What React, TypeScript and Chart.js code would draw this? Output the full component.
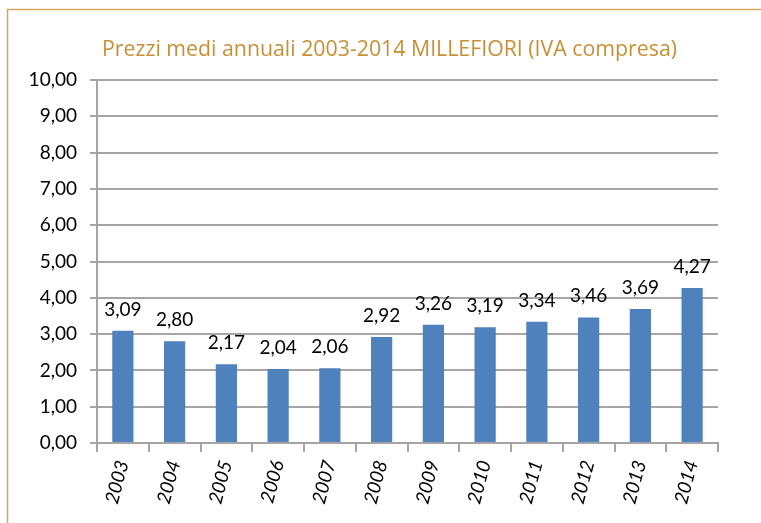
import React, { useEffect, useRef } from "react";
import { Chart, registerables } from "chart.js";

Chart.register(...registerables);

const titleText = "Prezzi medi annuali 2003-2014 MILLEFIORI (IVA compresa)";
const categories = ["2003", "2004", "2005", "2006", "2007", "2008", "2009", "2010", "2011", "2012", "2013", "2014"];
const prices = [3.09, 2.8, 2.17, 2.04, 2.06, 2.92, 3.26, 3.19, 3.34, 3.46, 3.69, 4.27];
const yMin = 0;
const yMax = 10;
const yStep = 1;

const fmt = (v: number) => v.toFixed(2).replace(".", ",");

const W = 761;
const H = 523;

const framePlugin = {
  id: "frame",
  beforeDraw(chart: any) {
    const ctx = chart.ctx;
    ctx.save();
    ctx.fillStyle = "#ffffff";
    ctx.fillRect(0, 0, chart.width, chart.height);
    ctx.strokeStyle = "#D9A45F";
    ctx.lineWidth = 1.5;
    ctx.beginPath();
    ctx.moveTo(7.5, chart.height);
    ctx.lineTo(7.5, 9.5);
    ctx.lineTo(chart.width, 9.5);
    ctx.stroke();
    ctx.fillStyle = "#C98F35";
    ctx.font = "22px 'Open Sans'";
    ctx.textAlign = "left";
    ctx.textBaseline = "alphabetic";
    const w = ctx.measureText(titleText).width;
    const target = 575;
    const sx = target / w;
    ctx.translate(102, 56);
    ctx.scale(sx, 1);
    ctx.fillText(titleText, 0, 0);
    ctx.restore();
  },
};

const labelPlugin = {
  id: "barLabels",
  afterDatasetsDraw(chart: any) {
    const ctx = chart.ctx;
    const meta = chart.getDatasetMeta(0);
    ctx.save();
    ctx.fillStyle = "#000000";
    ctx.font = "19px Lato";
    ctx.textAlign = "center";
    ctx.textBaseline = "alphabetic";
    meta.data.forEach((el: any, i: number) => {
      ctx.fillText(fmt(prices[i]), el.x, el.y - 15);
    });
    ctx.restore();
  },
};

export default function App() {
  const ref = useRef<HTMLCanvasElement | null>(null);
  useEffect(() => {
    if (!ref.current) return;
    const chart = new Chart(ref.current, {
      type: "bar",
      data: {
        labels: categories,
        datasets: [
          {
            data: prices,
            backgroundColor: "#4F81BD",
            borderWidth: 0,
            categoryPercentage: 1,
            barPercentage: 0.41,
          },
        ],
      },
      options: {
        responsive: false,
        animation: false,
        layout: { padding: { top: 80, right: 43, bottom: 0, left: 0 } },
        plugins: {
          legend: { display: false },
          title: { display: false },
          tooltip: { enabled: false },
        },
        scales: {
          x: {
            offset: true,
            grid: {
              offset: true,
              drawOnChartArea: false,
              drawTicks: true,
              tickLength: 9,
              color: "#A5A5A5",
              lineWidth: 2,
            },
            border: { display: true, color: "#A5A5A5", width: 2 },
            ticks: {
              minRotation: 75,
              maxRotation: 75,
              padding: 6,
              color: "#000000",
              font: { family: "Lato", size: 19, style: "italic" },
              autoSkip: false,
            },
            afterFit(scale: any) {
              scale.height = 80;
            },
          },
          y: {
            min: yMin,
            max: yMax,
            ticks: {
              stepSize: yStep,
              padding: 13,
              color: "#000000",
              font: { family: "Lato", size: 19 },
              callback: (v: any) => fmt(Number(v)),
            },
            grid: { color: "#A5A5A5", lineWidth: 2, tickLength: 7 },
            border: { display: true, color: "#A5A5A5", width: 2 },
            afterFit(scale: any) {
              scale.width = 97;
            },
          },
        },
      },
      plugins: [framePlugin, labelPlugin],
    });
    return () => chart.destroy();
  }, []);
  return (
    <div style={{ position: "absolute", left: 0, top: 0, width: W, height: H, background: "#fff" }}>
      <canvas ref={ref} width={W} height={H} style={{ display: "block" }} />
    </div>
  );
}
